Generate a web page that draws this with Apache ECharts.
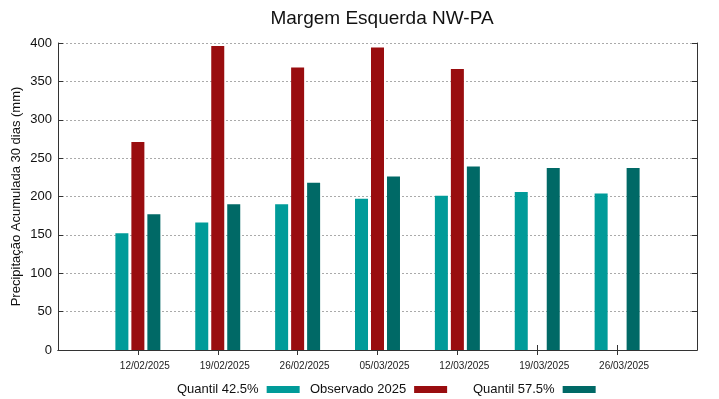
<!DOCTYPE html>
<html>
<head>
<meta charset="utf-8">
<script src="https://cdn.jsdelivr.net/npm/echarts@6/dist/echarts.min.js"></script>
<style>
  html, body { margin: 0; padding: 0; background: #fff; }
  #chart { width: 719px; height: 399px; }
</style>
</head>
<body>
<div id="chart"></div>
<script>
// empty slots at both ends so the dates fall on the gnuplot-like positions
var datas = ['', '12/02/2025', '19/02/2025', '26/02/2025', '05/03/2025', '12/03/2025', '19/03/2025', '26/03/2025', ''];
var quantil425 = [null, 152, 166, 190, 197, 201, 206, 204, null];
var observado = [null, 271, 396, 368, 394, 366, null, null, null];
var quantil575 = [null, 177, 190, 218, 226, 239, 237, 237, null];
var yTicks = [0, 50, 100, 150, 200, 250, 300, 350, 400];

var fonte = 'Liberation Sans, Arial, sans-serif';
var corEixo = '#333';

var myChart = echarts.init(document.getElementById('chart'));

function tickSkipEnds(idx) {
    return idx > 0 && idx < datas.length - 1;
}

var option = {
    animation: false,
    textStyle: { fontFamily: fonte },
    title: {
        text: 'Margem Esquerda NW-PA',
        left: 377,
        textAlign: 'center',
        top: 4,
        textStyle: { fontSize: 19, fontWeight: 'normal', color: '#111', fontFamily: fonte }
    },
    legend: [
        { data: ['Quantil 42.5%'], left: 172, top: 378 },
        { data: ['Observado 2025'], left: 305, top: 378 },
        { data: ['Quantil 57.5%'], left: 468, top: 378 }
    ].map(function (l) {
        l.align = 'right';
        l.itemWidth = 33;
        l.itemHeight = 7;
        l.icon = 'rect';
        l.selectedMode = false;
        l.textStyle = { fontSize: 13, color: '#111', fontFamily: fonte, padding: [0, 3, 0, 0] };
        return l;
    }),
    grid: { left: 58, right: 22, top: 43, bottom: 49, outerBoundsMode: 'none' },
    xAxis: [
        {
            type: 'category',
            data: datas,
            boundaryGap: false,
            axisLine: { lineStyle: { color: corEixo, width: 1 } },
            axisTick: { inside: true, length: 5, interval: tickSkipEnds, lineStyle: { color: corEixo } },
            axisLabel: {
                interval: 0,
                fontSize: 10,
                color: '#222',
                margin: 11,
                padding: [0, 0, 0, 14],
                fontFamily: fonte
            },
            splitLine: { show: false }
        },
        {
            type: 'category',
            data: datas,
            position: 'top',
            boundaryGap: false,
            axisLine: { lineStyle: { color: corEixo, width: 1 } },
            axisTick: { inside: true, length: 5, interval: tickSkipEnds, lineStyle: { color: corEixo } },
            axisLabel: { show: false },
            splitLine: { show: false }
        }
    ],
    yAxis: [
        {
            type: 'value',
            min: yTicks[0],
            max: yTicks[yTicks.length - 1],
            interval: 50,
            name: 'Precipitação Acumulada 30 dias (mm)',
            nameLocation: 'middle',
            nameGap: 35,
            nameMoveOverlap: false,
            nameTextStyle: { fontSize: 13, color: '#111', fontFamily: fonte },
            axisLine: { show: true, lineStyle: { color: corEixo, width: 1 } },
            axisTick: { show: true, inside: true, length: 5, lineStyle: { color: corEixo } },
            axisLabel: { fontSize: 13, color: '#111', margin: 6, fontFamily: fonte },
            splitLine: { lineStyle: { type: [2, 2], color: '#aaa', width: 1 } }
        },
        {
            type: 'value',
            min: yTicks[0],
            max: yTicks[yTicks.length - 1],
            interval: 50,
            position: 'right',
            axisLine: { show: true, lineStyle: { color: corEixo, width: 1 } },
            axisTick: { show: true, inside: true, length: 5, lineStyle: { color: corEixo } },
            axisLabel: { show: false },
            splitLine: { show: false }
        }
    ],
    series: [
        {
            name: 'Quantil 42.5%',
            type: 'bar',
            barWidth: 13,
            barGap: '23%',
            itemStyle: { color: '#009b99' },
            data: quantil425
        },
        {
            name: 'Observado 2025',
            type: 'bar',
            barWidth: 13,
            barGap: '23%',
            itemStyle: { color: '#990d0f' },
            data: observado
        },
        {
            name: 'Quantil 57.5%',
            type: 'bar',
            barWidth: 13,
            barGap: '23%',
            itemStyle: { color: '#006966' },
            data: quantil575
        }
    ]
};

myChart.setOption(option);
</script>
</body>
</html>
